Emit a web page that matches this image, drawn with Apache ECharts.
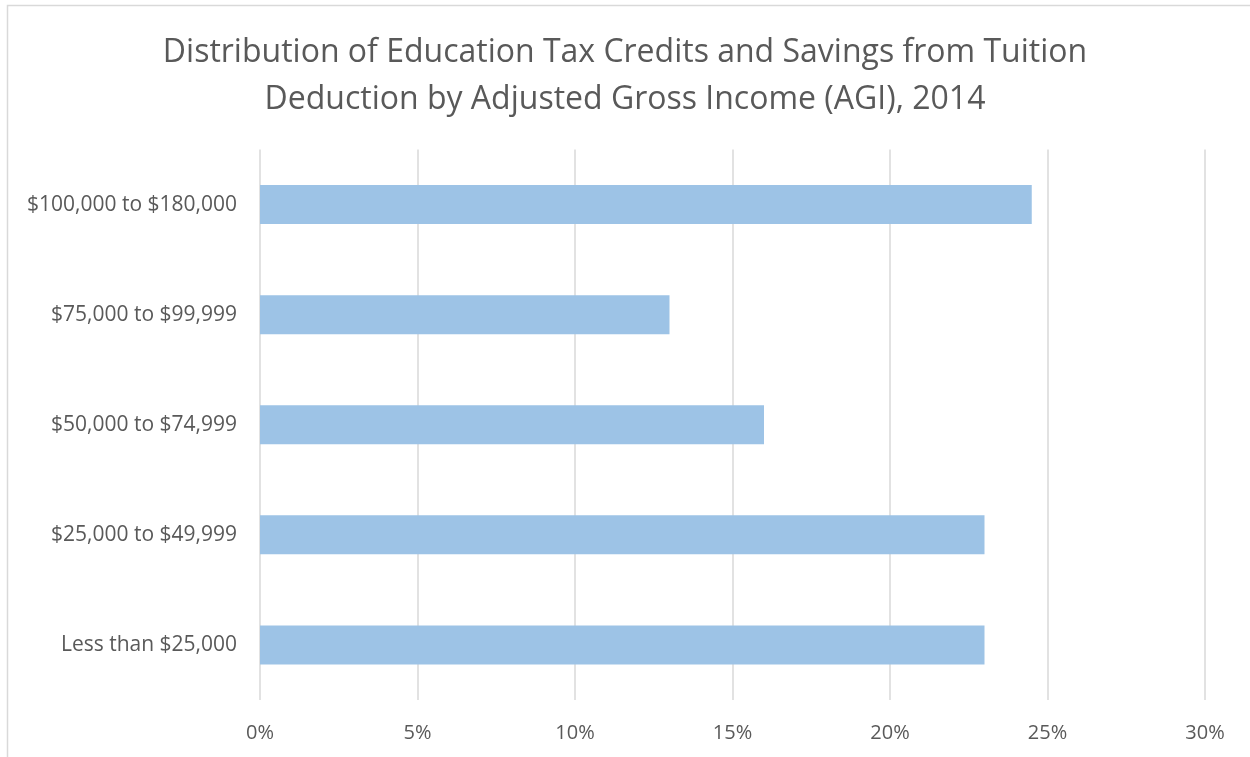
<!DOCTYPE html>
<html>
<head>
<meta charset="utf-8">
<title>Education Tax Credits by AGI, 2014</title>
<script src="https://cdn.jsdelivr.net/npm/echarts@6/dist/echarts.min.js"></script>
<style>
  html, body { margin: 0; padding: 0; background: #ffffff; }
  #chart { width: 1250px; height: 757px; }
</style>
</head>
<body>
<div id="chart"></div>
<script>
// Income brackets, bottom to top as listed in the source table
const categories = [
  'Less than $25,000',
  '$25,000 to $49,999',
  '$50,000 to $74,999',
  '$75,000 to $99,999',
  '$100,000 to $180,000'
];
// Share of credits and tuition-deduction savings (percent)
const shares = [23, 23, 16, 13, 24.5];
// Axis range and ticks (percent)
const axisMin = 0;
const axisMax = 30;
const axisStep = 5;

const textColor = '#595959';
const gridColor = '#d9d9d9';
const font = '"Open Sans", "Liberation Sans", sans-serif';

const chart = echarts.init(document.getElementById('chart'), null, { renderer: 'canvas' });

chart.setOption({
  backgroundColor: '#ffffff',
  animation: false,
  title: {
    text: 'Distribution of Education Tax Credits and Savings from Tuition\nDeduction by Adjusted Gross Income (AGI), 2014',
    left: 'center',
    top: 24,
    textStyle: {
      fontFamily: font,
      fontSize: 32,
      fontWeight: 'normal',
      color: textColor,
      lineHeight: 47
    }
  },
  graphic: [{
    type: 'rect',
    shape: { x: 7.5, y: 5.5, width: 1260, height: 780 },
    style: { fill: 'none', stroke: gridColor, lineWidth: 1.5 },
    silent: true
  }],
  grid: {
    left: 260,
    right: 45,
    top: 149.5,
    bottom: 57,
    containLabel: false
  },
  xAxis: {
    type: 'value',
    min: axisMin,
    max: axisMax,
    interval: axisStep,
    axisLine: { show: false },
    axisTick: { show: false },
    splitLine: { show: true, lineStyle: { color: gridColor, width: 1.5 } },
    axisLabel: {
      formatter: v => v + '%',
      color: textColor,
      fontFamily: font,
      fontSize: 20,
      margin: 23
    }
  },
  yAxis: {
    type: 'category',
    data: categories,
    axisLine: { show: false },
    axisTick: { show: false },
    splitLine: { show: false },
    axisLabel: {
      color: textColor,
      fontFamily: font,
      fontSize: 21,
      margin: 23
    }
  },
  series: [{
    type: 'bar',
    data: shares,
    barWidth: '35.4%',
    itemStyle: { color: '#9dc3e6' },
    silent: true
  }]
});
</script>
</body>
</html>
